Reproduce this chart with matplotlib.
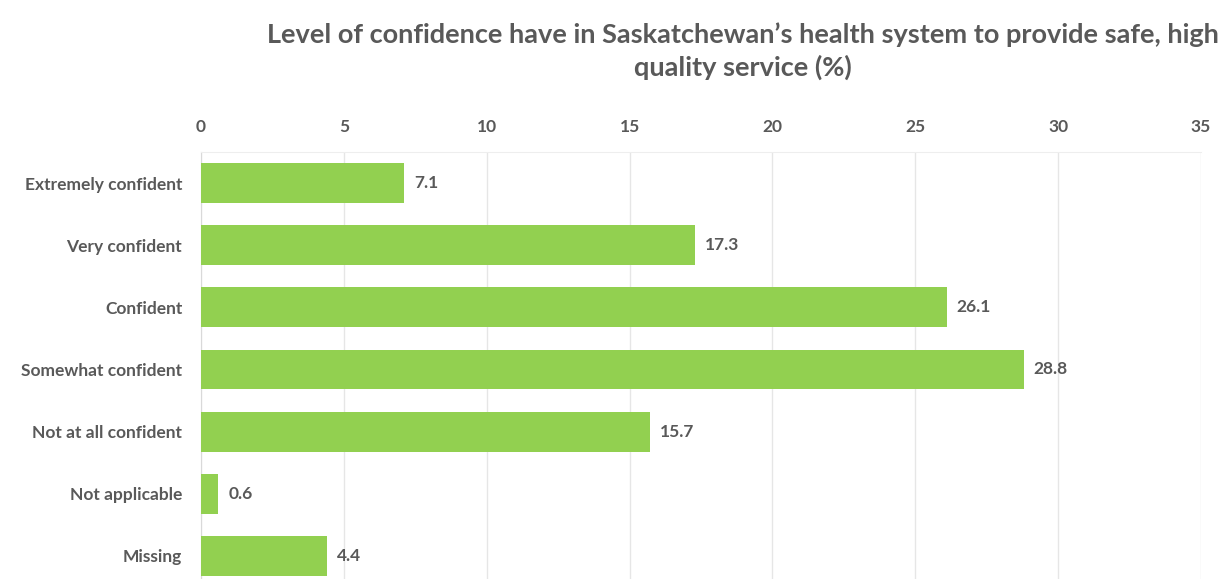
import matplotlib.pyplot as plt

# Survey responses
categories = ["Extremely confident", "Very confident", "Confident", "Somewhat confident",
              "Not at all confident", "Not applicable", "Missing"]
values = [7.1, 17.3, 26.1, 28.8, 15.7, 0.6, 4.4]
ticks = [0, 5, 10, 15, 20, 25, 30, 35]

plt.rcParams['font.family'] = ['Lato', 'DejaVu Sans']
text_color = "#595959"

fig = plt.figure(figsize=(12.28, 5.79), dpi=100)
ax = fig.add_axes([0.1637, -0.0138, 0.8143, 0.7513])

ypos = range(len(categories))
ax.barh(ypos, values, height=0.64, color="#92D050", zorder=3)
for y, v in zip(ypos, values):
    ax.text(v + 0.35, y, f"{v}", va="center", ha="left", fontsize=12.5,
            fontweight="bold", color=text_color)

ax.set_xlim(0, 35)
ax.set_ylim(6.5, -0.5)
ax.set_xticks(ticks)
ax.set_yticks(list(ypos))
ax.set_yticklabels(categories)
ax.xaxis.tick_top()
ax.tick_params(axis="both", length=0, labelsize=12.5, labelcolor=text_color)
ax.tick_params(axis="x", pad=12)
ax.tick_params(axis="y", pad=13.5)
for lbl in ax.get_xticklabels() + ax.get_yticklabels():
    lbl.set_fontweight("bold")

ax.grid(axis="x", color="#e6e6e6", linewidth=1, zorder=0)
for side in ["right", "bottom"]:
    ax.spines[side].set_visible(False)
ax.spines["left"].set_color("#d9d9d9")
ax.spines["top"].set_color("#eeeeee")

fig.text(0.605, 0.912, "Level of confidence have in Saskatchewan\u2019s health system to provide safe, high\nquality service (%)",
         ha="center", va="center", fontsize=19.5, fontweight="bold", color=text_color,
         linespacing=1.38)

fig.savefig("out.png", dpi=100)
